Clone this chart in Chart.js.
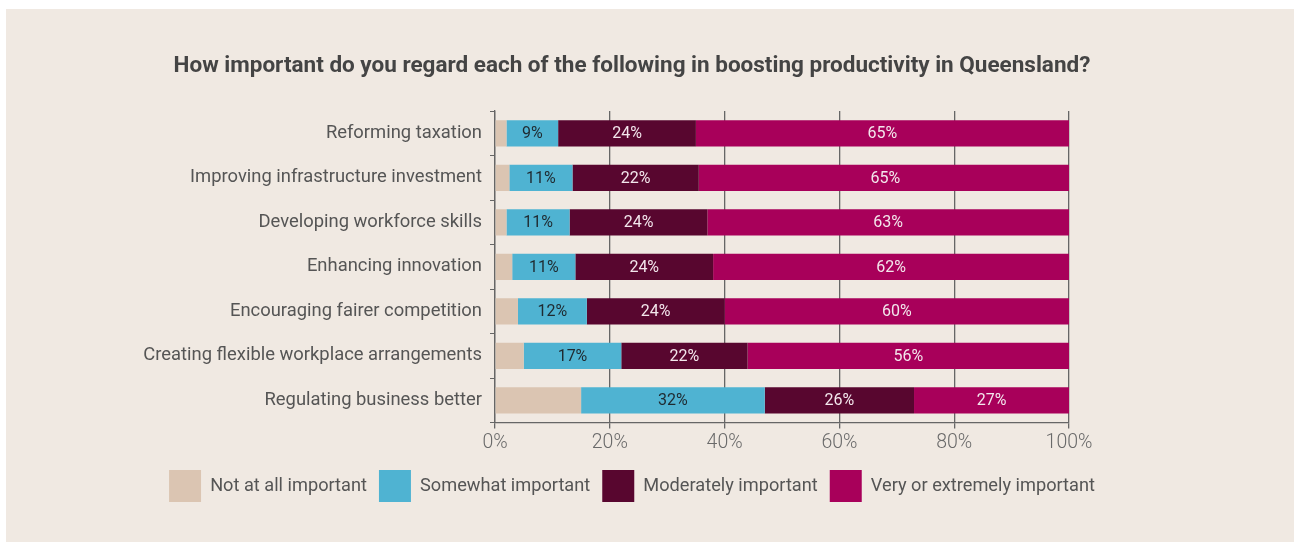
<!DOCTYPE html>
<html>
<head>
<meta charset="utf-8">
<script src="https://cdn.jsdelivr.net/npm/chart.js@4.4.0/dist/chart.umd.min.js"></script>
<style>
  html, body { margin: 0; padding: 0; background: #ffffff; }
  #panel { position: absolute; left: 6px; top: 9px; width: 1288px; height: 533px; background: #f0e9e2; }
  #wrap { position: absolute; left: 0; top: 0; width: 1252px; height: 533px; }
</style>
</head>
<body>
<div id="panel"><div id="wrap"><canvas id="chart"></canvas></div></div>
<script>
// survey answers, percent of respondents
const categories = [
  'Reforming taxation',
  'Improving infrastructure investment',
  'Developing workforce skills',
  'Enhancing innovation',
  'Encouraging fairer competition',
  'Creating flexible workplace arrangements',
  'Regulating business better'
];
const notImportant = [2, 2.5, 2, 3, 4, 5, 15];
const somewhat = [9, 11, 11, 11, 12, 17, 32];
const moderately = [24, 22, 24, 24, 24, 22, 26];
const veryImportant = [65, 65, 63, 62, 60, 56, 27];
const xTicks = [0, 20, 40, 60, 80, 100];

const seriesNames = ['Not at all important', 'Somewhat important', 'Moderately important', 'Very or extremely important'];
const seriesColors = ['#dbc5b2', '#4fb3d2', '#58062f', '#a8005a'];
const labelColors = [null, '#1f2a30', '#f3e6ec', '#f3e6ec'];

const FONT = 'Roboto, "DejaVu Sans", sans-serif';

// writes the percentage in the middle of each labelled segment
const segmentLabels = {
  id: 'segmentLabels',
  afterDatasetsDraw(chart) {
    const ctx = chart.ctx;
    ctx.save();
    ctx.font = '16px ' + FONT;
    ctx.textAlign = 'center';
    ctx.textBaseline = 'middle';
    chart.data.datasets.forEach((ds, i) => {
      if (!labelColors[i]) return;
      chart.getDatasetMeta(i).data.forEach((bar, j) => {
        ctx.fillStyle = labelColors[i];
        ctx.fillText(Math.round(ds.data[j]) + '%', (bar.x + bar.base) / 2, bar.y + 1);
      });
    });
    ctx.restore();
  }
};

const datasets = [notImportant, somewhat, moderately, veryImportant].map((d, i) => ({
  label: seriesNames[i],
  data: d,
  backgroundColor: seriesColors[i],
  borderWidth: 0,
  barPercentage: 0.59,
  categoryPercentage: 1
}));

new Chart(document.getElementById('chart'), {
  type: 'bar',
  data: { labels: categories, datasets },
  plugins: [segmentLabels],
  options: {
    indexAxis: 'y',
    responsive: true,
    maintainAspectRatio: false,
    animation: false,
    layout: { padding: { left: 0, right: 0, top: 0, bottom: 30 } },
    scales: {
      x: {
        stacked: true,
        min: 0, max: 100,
        afterBuildTicks: axis => { axis.ticks = xTicks.map(v => ({ value: v })); },
        ticks: { color: '#6a6a6a', font: { family: FONT, size: 19.5, weight: '300' }, padding: 3, callback: v => v + '%' },
        grid: { color: '#666', lineWidth: 1.3, tickLength: 6 },
        border: { color: '#666', width: 1.3 }
      },
      y: {
        stacked: true,
        afterFit: axis => { axis.width = 489; },
        ticks: { color: '#555', font: { family: FONT, size: 18.4 }, padding: 8 },
        grid: { drawOnChartArea: false, color: '#666', tickLength: 5, offset: true },
        border: { color: '#666', width: 1.3 }
      },
      // empty right-hand axis that only reserves space, so the title and legend stay centred on the canvas
      spacer: {
        axis: 'y',
        type: 'linear',
        position: 'right',
        afterFit: axis => { axis.width = 189; },
        ticks: { display: false },
        grid: { display: false },
        border: { display: false }
      }
    },
    plugins: {
      title: {
        display: true,
        text: 'How important do you regard each of the following in boosting productivity in Queensland?',
        color: '#444',
        font: { family: FONT, size: 22.5, weight: 'bold' },
        padding: { top: 44, bottom: 31 }
      },
      legend: {
        position: 'bottom',
        labels: {
          color: '#555',
          font: { family: FONT, size: 18.2 },
          boxWidth: 32, boxHeight: 32,
          padding: 12
        }
      },
      tooltip: { enabled: false }
    }
  }
});
</script>
</body>
</html>
